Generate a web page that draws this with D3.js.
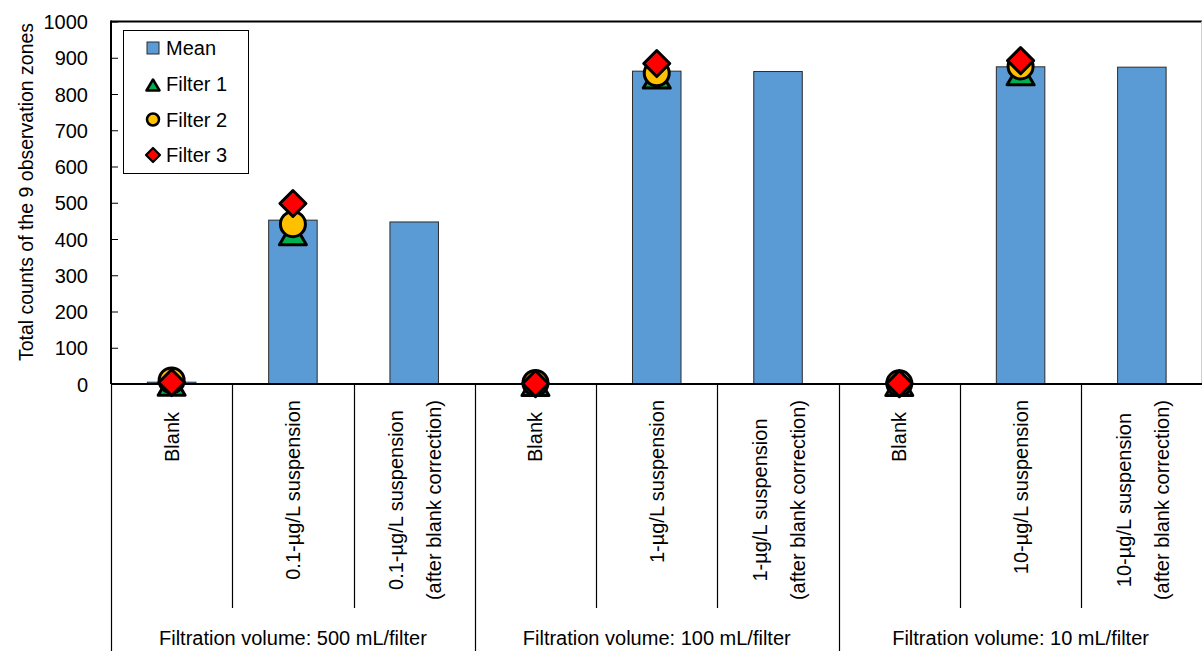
<!DOCTYPE html>
<html>
<head>
<meta charset="utf-8">
<script src="https://cdn.jsdelivr.net/npm/d3@7"></script>
<style>
  html, body { margin: 0; padding: 0; background: #fff; }
  svg { display: block; font-family: "Liberation Sans", Arial, sans-serif; }
</style>
</head>
<body>
<svg id="chart" width="1202" height="651"></svg>
<script>
// Category groups (filtration volume) and the three samples inside each group
const groupLabels = [
  "Filtration volume: 500 mL/filter",
  "Filtration volume: 100 mL/filter",
  "Filtration volume: 10 mL/filter"
];
const categoryLabels = [
  ["Blank"],
  ["0.1-µg/L suspension"],
  ["0.1-µg/L suspension", "(after blank correction)"],
  ["Blank"],
  ["1-µg/L suspension"],
  ["1-µg/L suspension", "(after blank correction)"],
  ["Blank"],
  ["10-µg/L suspension"],
  ["10-µg/L suspension", "(after blank correction)"]
];

// Mean of the three filters (bars)
const meanValues = [5, 452, 447, 1.3, 863, 862, 1, 875, 874];
// Individual filter counts (markers); corrected columns have none
const filter1 = [1, 416, null, 0, 848, null, 0, 857, null];
const filter2 = [10, 441, null, 3, 857, null, 2, 876, null];
const filter3 = [4, 498, null, 1, 884, null, 1, 892, null];

const yTicks = [0, 100, 200, 300, 400, 500, 600, 700, 800, 900, 1000];
const yTitle = "Total counts of the 9 observation zones";

const seriesNames = ["Mean", "Filter 1", "Filter 2", "Filter 3"];

const colors = {
  bar: "#5B9BD5",
  tri: "#00B050",
  circ: "#FFC000",
  dia: "#FF0000"
};

const svg = d3.select("#chart");
const plotLeft = 111, plotRight = 1202.5, plotTop = 21.5, plotBottom = 384;

const x = d3.scaleBand()
  .domain(d3.range(categoryLabels.length))
  .range([plotLeft, plotRight])
  .paddingInner(0).paddingOuter(0);
const y = d3.scaleLinear().domain([0, 1000]).range([plotBottom, plotTop]);

const bw = x.bandwidth();
const barW = bw * 0.4;

// Plot frame: top edge and faint right edge
svg.append("line")
  .attr("x1", plotLeft).attr("x2", plotRight).attr("y1", plotTop).attr("y2", plotTop)
  .attr("stroke", "#000").attr("stroke-width", 2);
svg.append("line")
  .attr("x1", 1201.5).attr("x2", 1201.5).attr("y1", plotTop).attr("y2", plotBottom)
  .attr("stroke", "#d0d0d0").attr("stroke-width", 1);

// Bars
svg.append("g").selectAll("rect")
  .data(meanValues)
  .join("rect")
  .attr("x", (d, i) => x(i) + (bw - barW) / 2)
  .attr("y", d => y(d))
  .attr("width", barW)
  .attr("height", d => y(0) - y(d))
  .attr("fill", colors.bar)
  .attr("stroke", "#2b2b2b")
  .attr("stroke-width", 1);

// Y axis with inward ticks
const yAxis = d3.axisLeft(y).tickValues(yTicks).tickFormat(d3.format("d"))
  .tickSize(-7).tickPadding(0);
const gy = svg.append("g").attr("transform", `translate(${plotLeft},0)`).call(yAxis);
gy.select(".domain").remove();
gy.selectAll(".tick line").attr("stroke", "#000").attr("stroke-width", 1);
gy.selectAll(".tick text")
  .attr("x", -23)
  .attr("dy", "0.35em")
  .attr("font-size", 20)
  .attr("font-family", "Liberation Sans, Arial, sans-serif")
  .attr("fill", "#000");
svg.append("line")
  .attr("x1", plotLeft).attr("x2", plotLeft).attr("y1", plotTop - 1).attr("y2", plotBottom)
  .attr("stroke", "#000").attr("stroke-width", 2);

// Y axis title
svg.append("text")
  .attr("transform", "translate(33,192) rotate(-90)")
  .attr("text-anchor", "middle")
  .attr("font-size", 19.5)
  .attr("fill", "#000")
  .text(yTitle);

// Multi-level category axis: separators
const sepLines = [];
for (let i = 0; i <= categoryLabels.length; i++) {
  const xx = i === categoryLabels.length ? plotRight : x(i);
  const isGroup = i % 3 === 0;
  sepLines.push({ x: xx, y2: isGroup ? 651 : 608 });
}
svg.append("g").selectAll("line")
  .data(sepLines)
  .join("line")
  .attr("x1", d => Math.round(d.x) + 0.5).attr("x2", d => Math.round(d.x) + 0.5)
  .attr("y1", plotBottom).attr("y2", d => d.y2)
  .attr("stroke", "#000").attr("stroke-width", 1.2);

// X axis baseline
svg.append("line")
  .attr("x1", plotLeft).attr("x2", plotRight).attr("y1", plotBottom).attr("y2", plotBottom)
  .attr("stroke", "#000").attr("stroke-width", 2);

// Category labels (rotated)
const catG = svg.append("g").attr("font-size", 20).attr("fill", "#000");
categoryLabels.forEach((lines, i) => {
  const cx = x(i) + bw / 2;
  const offsets = lines.length === 1 ? [7] : [-11, 27];
  const texts = lines.map(t => catG.append("text")
    .attr("text-anchor", "middle")
    .text(t));
  const maxLen = d3.max(texts, t => t.node().getComputedTextLength());
  const cy = Math.max(437, 400 + maxLen / 2);
  texts.forEach((t, k) => {
    t.attr("transform", `translate(${cx + offsets[k]},${cy}) rotate(-90)`);
  });
});

// Group labels
svg.append("g").selectAll("text")
  .data(groupLabels)
  .join("text")
  .attr("x", (d, g) => (x(g * 3) + (g * 3 + 3 === 9 ? plotRight : x(g * 3 + 3))) / 2)
  .attr("y", 645)
  .attr("text-anchor", "middle")
  .attr("font-size", 20)
  .attr("fill", "#000")
  .text(d => d);

// Marker shapes
function triPath(w, h) {
  return `M0,${-h / 2}L${w / 2},${h / 2}L${-w / 2},${h / 2}Z`;
}
function diaPath(r) {
  return `M0,${-r}L${r},0L0,${r}L${-r},0Z`;
}

const markerG = svg.append("g");
// Filter 1: triangles
markerG.append("g").selectAll("path")
  .data(filter1.map((v, i) => ({ v, i })).filter(d => d.v !== null))
  .join("path")
  .attr("d", triPath(27, 23))
  .attr("transform", d => `translate(${x(d.i) + bw / 2},${y(d.v)})`)
  .attr("fill", colors.tri).attr("stroke", "#000")
  .attr("stroke-width", 3).attr("stroke-linejoin", "round");
// Filter 2: circles
markerG.append("g").selectAll("circle")
  .data(filter2.map((v, i) => ({ v, i })).filter(d => d.v !== null))
  .join("circle")
  .attr("cx", d => x(d.i) + bw / 2)
  .attr("cy", d => y(d.v))
  .attr("r", 12.5)
  .attr("fill", colors.circ).attr("stroke", "#000").attr("stroke-width", 3);
// Filter 3: diamonds
markerG.append("g").selectAll("path")
  .data(filter3.map((v, i) => ({ v, i })).filter(d => d.v !== null))
  .join("path")
  .attr("d", diaPath(13))
  .attr("transform", d => `translate(${x(d.i) + bw / 2},${y(d.v)})`)
  .attr("fill", colors.dia).attr("stroke", "#000")
  .attr("stroke-width", 3).attr("stroke-linejoin", "round");

// Legend
const lg = svg.append("g");
lg.append("rect")
  .attr("x", 123.5).attr("y", 30.5).attr("width", 125).attr("height", 143)
  .attr("fill", "#fff").attr("stroke", "#000").attr("stroke-width", 1);
const legendY = [48, 84, 119.5, 155];
const mx = 153;
seriesNames.forEach((name, k) => {
  const yy = legendY[k];
  if (k === 0) {
    lg.append("rect").attr("x", mx - 6).attr("y", yy - 6).attr("width", 12).attr("height", 12)
      .attr("fill", colors.bar).attr("stroke", "#2b2b2b").attr("stroke-width", 1);
  } else if (k === 1) {
    lg.append("path").attr("d", triPath(13, 11)).attr("transform", `translate(${mx},${yy + 1})`)
      .attr("fill", colors.tri).attr("stroke", "#000").attr("stroke-width", 2.5).attr("stroke-linejoin", "round");
  } else if (k === 2) {
    lg.append("circle").attr("cx", mx).attr("cy", yy).attr("r", 6)
      .attr("fill", colors.circ).attr("stroke", "#000").attr("stroke-width", 2.5);
  } else {
    lg.append("path").attr("d", diaPath(7)).attr("transform", `translate(${mx},${yy})`)
      .attr("fill", colors.dia).attr("stroke", "#000").attr("stroke-width", 2.2).attr("stroke-linejoin", "round");
  }
  lg.append("text").attr("x", 166).attr("y", yy + 7)
    .attr("font-size", 20).attr("fill", "#000").text(name);
});
</script>
</body>
</html>
